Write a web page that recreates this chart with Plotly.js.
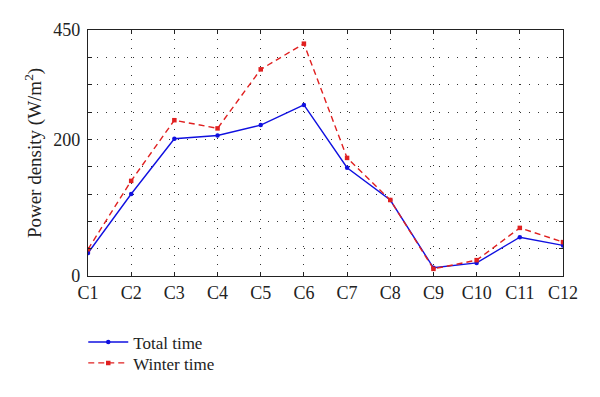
<!DOCTYPE html>
<html>
<head>
<meta charset="utf-8">
<script src="https://cdn.plot.ly/plotly-3.0.1.min.js"></script>
<style>html,body{margin:0;padding:0;background:#fff;}#chart{width:600px;height:397px;}</style>
</head>
<body>
<div id="chart"></div>
<script>
const categories = ["C1","C2","C3","C4","C5","C6","C7","C8","C9","C10","C11","C12"];
const totalTime = [42, 150, 251, 257, 276, 313, 198, 139, 15, 24, 71, 56];
const winterTime = [49, 174, 285, 270, 378, 425, 216, 139, 13, 29, 88, 62];
const yTickVals = [0, 50, 100, 150, 200, 250, 300, 350, 400, 450];
const yTickText = ["0", "", "", "", "", "200", "", "", "", "450"];

const font = "Liberation Serif, Times New Roman, serif";

const traces = [
  {
    x: categories, y: totalTime, name: "Total time", type: "scatter", mode: "lines+markers",
    line: {color: "#1010e0", width: 1.4},
    marker: {color: "#1010e0", size: 4.5, symbol: "circle"},
    legend: "legend"
  },
  {
    x: categories, y: winterTime, name: "Winter time", type: "scatter", mode: "lines+markers",
    line: {color: "#e02020", width: 1.4, dash: "6px,4px"},
    marker: {color: "#e02020", size: 4.5, symbol: "square"},
    legend: "legend2"
  }
];

const legendBase = {x: -0.01, xanchor: "left", yanchor: "top", orientation: "v", itemwidth: 40,
  font: {family: font, size: 17, color: "#222"}, bgcolor: "rgba(0,0,0,0)"};

const layout = {
  width: 600, height: 397,
  margin: {l: 88, r: 37, t: 30, b: 121},
  paper_bgcolor: "#fff", plot_bgcolor: "#fff",
  font: {family: font, size: 17, color: "#222"},
  showlegend: true,
  legend: Object.assign({}, legendBase, {y: -0.197}),
  legend2: Object.assign({}, legendBase, {y: -0.282}),
  xaxis: {
    type: "category", range: [0, 11],
    showline: true, linecolor: "#222", linewidth: 1.2, mirror: "ticks",
    ticks: "inside", ticklen: 4, tickcolor: "#222",
    showgrid: true, gridcolor: "#333", gridwidth: 1, griddash: "1px,8px",
    zeroline: false,
    tickfont: {family: font, size: 18, color: "#222"}
  },
  yaxis: {
    range: [0, 450], tickmode: "array", tickvals: yTickVals, ticktext: yTickText,
    showline: true, linecolor: "#222", linewidth: 1.2, mirror: "ticks",
    ticks: "inside", ticklen: 4, tickcolor: "#222",
    showgrid: true, gridcolor: "#333", gridwidth: 1, griddash: "1px,8px",
    zeroline: false, ticklabelstandoff: 3,
    tickfont: {family: font, size: 18, color: "#222"},
    title: {text: "Power density (W/m<sup>2</sup>)", font: {family: font, size: 19, color: "#222"}, standoff: 6}
  }
};

Plotly.newPlot("chart", traces, layout, {displayModeBar: false, staticPlot: true});
</script>
</body>
</html>
